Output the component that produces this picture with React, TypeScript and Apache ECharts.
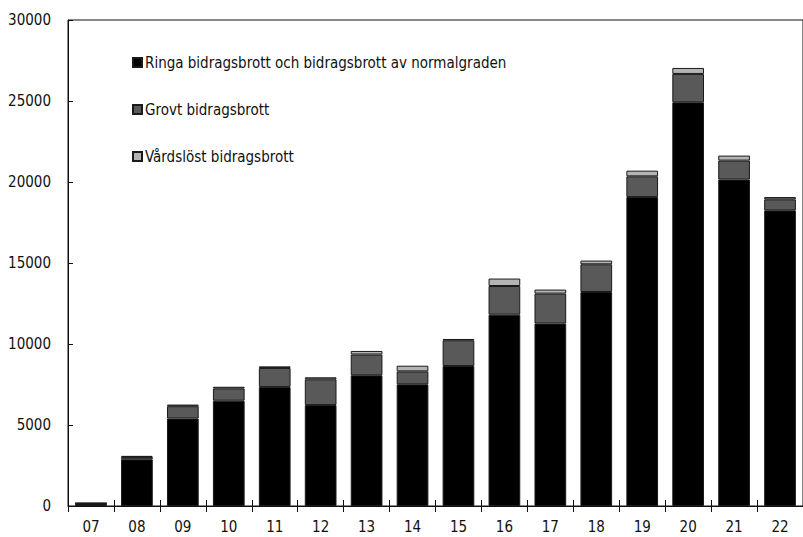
import React, { useEffect, useRef } from "react";
import * as echarts from "echarts";

const categories = ["07", "08", "09", "10", "11", "12", "13", "14", "15", "16", "17", "18", "19", "20", "21", "22"];
const ringa = [150, 2880, 5400, 6500, 7350, 6230, 8070, 7510, 8640, 11810, 11260, 13210, 19070, 24920, 20150, 18250];
const grovt = [20, 150, 760, 760, 1170, 1590, 1280, 800, 1590, 1770, 1850, 1710, 1280, 1750, 1170, 680];
const vardslost = [10, 60, 100, 100, 100, 125, 220, 350, 80, 460, 250, 230, 350, 370, 310, 140];
const seriesNames = [
  "Ringa bidragsbrott och bidragsbrott av normalgraden",
  "Grovt bidragsbrott",
  "Vårdslöst bidragsbrott",
];
const yTicks = { min: 0, max: 30000, interval: 5000 };

const FONT = "'DejaVu Sans Condensed', 'Liberation Sans Narrow', sans-serif";

export default function App() {
  const ref = useRef<HTMLDivElement>(null);
  useEffect(() => {
    if (!ref.current) return;
    const chart = echarts.init(ref.current, undefined, { renderer: "svg" });
    const colors = ["#000000", "#595959", "#b4b4b4"];
    const datas = [ringa, grovt, vardslost];
    chart.setOption({
      animation: false,
      backgroundColor: "#ffffff",
      textStyle: { fontFamily: FONT },
      grid: {
        left: 68,
        top: 20,
        width: 744,
        height: 486,
        show: true,
        borderColor: "#111",
        borderWidth: 1,
      },
      legend: {
        orient: "vertical",
        left: 132,
        top: 55,
        padding: 0,
        itemWidth: 9,
        itemHeight: 9,
        itemGap: 32,
        icon: "rect",
        selectedMode: false,
        textStyle: { fontFamily: FONT, fontSize: 15, color: "#111", lineHeight: 15, padding: [0, 0, 0, -2] },
        data: seriesNames,
      },
      xAxis: [
        {
          type: "category",
          data: categories,
          boundaryGap: true,
          axisLine: { lineStyle: { color: "#111", width: 1 } },
          axisTick: { show: true, inside: false, length: 6, lineStyle: { color: "#111" } },
          axisLabel: { fontFamily: FONT, fontSize: 15, color: "#111", margin: 13 },
          splitLine: { show: false },
        },
        {
          type: "category",
          data: categories,
          position: "bottom",
          boundaryGap: true,
          axisLine: { show: false },
          axisTick: { show: true, inside: true, length: 6, lineStyle: { color: "#111" } },
          axisLabel: { show: false },
          splitLine: { show: false },
        },
      ],
      yAxis: {
        type: "value",
        min: yTicks.min,
        max: yTicks.max,
        interval: yTicks.interval,
        axisLine: { show: true, lineStyle: { color: "#111", width: 1 } },
        axisTick: { show: true, inside: true, length: 5, lineStyle: { color: "#111" } },
        axisLabel: {
          fontFamily: FONT,
          fontSize: 15,
          color: "#111",
          margin: 17,
          formatter: (v: number) => String(v),
        },
        splitLine: { show: false },
      },
      series: seriesNames.map((name, i) => ({
        name,
        type: "bar",
        stack: "total",
        data: datas[i],
        barCategoryGap: "31%",
        itemStyle: { color: colors[i], borderColor: "#1a1a1a", borderWidth: 1 },
      })),
    });
    return () => chart.dispose();
  }, []);
  return (
    <div
      ref={ref}
      style={{ position: "absolute", left: 0, top: 0, width: 803, height: 537, overflow: "hidden" }}
    />
  );
}
